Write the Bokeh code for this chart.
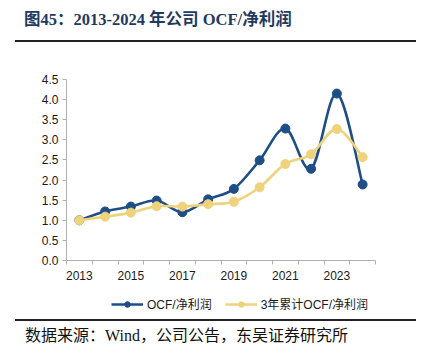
from bokeh.plotting import figure
from bokeh.models import (Div, FixedTicker, Legend, LegendItem, ColumnDataSource,
                          Range1d, PrintfTickFormatter)
from bokeh.layouts import column
from bokeh.embed import file_html
from bokeh.resources import INLINE

# ---- data ----
years = [2013, 2014, 2015, 2016, 2017, 2018, 2019, 2020, 2021, 2022, 2023, 2024]
ocf_ratio = [1.00, 1.22, 1.34, 1.49, 1.20, 1.52, 1.78, 2.49, 3.28, 2.28, 4.15, 1.89]
cum3_ratio = [1.00, 1.09, 1.19, 1.35, 1.34, 1.40, 1.46, 1.82, 2.40, 2.64, 3.27, 2.57]
y_ticks = [0.0, 0.5, 1.0, 1.5, 2.0, 2.5, 3.0, 3.5, 4.0, 4.5]
x_tick_labels = ["2013", "2015", "2017", "2019", "2021", "2023"]
series_names = ["OCF/净利润", "3年累计OCF/净利润"]
title_text = "图45：2013-2024 年公司 OCF/净利润"
source_text = "数据来源：Wind，公司公告，东吴证券研究所"

BLUE = "#1f4e87"
YELLOW = "#efd27c"
FONT = "'Liberation Sans', 'Noto Sans CJK SC'"

xs = [y - years[0] + 0.5 for y in years]


def bezier_source(x, y):
    """Smoothed (Catmull-Rom style) segments between the data points."""
    n = len(x)
    d = dict(x0=[], y0=[], x1=[], y1=[], cx0=[], cy0=[], cx1=[], cy1=[])
    for i in range(n - 1):
        xp, yp = (x[i - 1], y[i - 1]) if i > 0 else (x[i], y[i])
        xn, yn = (x[i + 2], y[i + 2]) if i + 2 < n else (x[i + 1], y[i + 1])
        d["x0"].append(x[i]); d["y0"].append(y[i])
        d["x1"].append(x[i + 1]); d["y1"].append(y[i + 1])
        d["cx0"].append(x[i] + (x[i + 1] - xp) / 6.0)
        d["cy0"].append(y[i] + (y[i + 1] - yp) / 6.0)
        d["cx1"].append(x[i + 1] - (xn - x[i]) / 6.0)
        d["cy1"].append(y[i + 1] - (yn - y[i]) / 6.0)
    return ColumnDataSource(d)


p = figure(width=429, height=240, output_backend="svg", toolbar_location=None,
           x_range=Range1d(0, len(years)), y_range=Range1d(0, 4.5),
           min_border_left=66, min_border_right=54, min_border_top=34,
           min_border_bottom=25, outline_line_color=None,
           background_fill_color="white", border_fill_color="white")
p.grid.visible = False

# separate strip that holds only the legend, below the chart
# (its own series copies sit outside its visible y range)
pl = figure(width=429, height=33, output_backend="svg", toolbar_location=None,
            x_range=Range1d(0, 1), y_range=Range1d(10, 11),
            x_axis_location=None, y_axis_location=None,
            min_border=0, outline_line_color=None,
            background_fill_color="white", border_fill_color="white")
pl.frame_align = False
pl.grid.visible = False

items = []
for vals, color, name in [(ocf_ratio, BLUE, series_names[0]),
                          (cum3_ratio, YELLOW, series_names[1])]:
    p.bezier(x0="x0", y0="y0", x1="x1", y1="y1", cx0="cx0", cy0="cy0",
             cx1="cx1", cy1="cy1", source=bezier_source(xs, vals),
             line_color=color, line_width=2.6)
    p.scatter(xs, vals, size=9, marker="circle", fill_color=color,
              line_color=color)
    leg_line = pl.line(xs, vals, line_color=color, line_width=2.6)
    leg_dot = pl.scatter(xs, vals, size=8, marker="circle", fill_color=color,
                         line_color=color)
    items.append(LegendItem(label=name, renderers=[leg_line, leg_dot]))

# axes
ax = p.xaxis[0]
ax.ticker = FixedTicker(ticks=[xs[i] for i in range(0, len(years), 2)],
                        minor_ticks=list(range(len(years) + 1)))
ax.major_label_overrides = {xs[i]: x_tick_labels[i // 2] for i in range(0, len(years), 2)}
ax.major_tick_out = 0
ax.major_tick_in = 0
ax.minor_tick_out = 4
ax.minor_tick_in = 0
ax.minor_tick_line_color = "#b0b0b0"
ax.axis_line_color = "#b0b0b0"
ax.major_label_standoff = 6

ay = p.yaxis[0]
ay.ticker = FixedTicker(ticks=y_ticks)
ay.formatter = PrintfTickFormatter(format="%.1f")
ay.major_tick_out = 4
ay.major_tick_in = 0
ay.minor_tick_line_color = None
ay.major_tick_line_color = "#b0b0b0"
ay.axis_line_color = "#b0b0b0"
ay.major_label_standoff = 4

for a in (ax, ay):
    a.major_label_text_font = FONT
    a.major_label_text_font_size = "12px"
    a.major_label_text_color = "#1a1a1a"

legend = Legend(items=items, orientation="horizontal", location=(111, 6),
                label_text_font=FONT, label_text_font_size="12px",
                label_text_color="#1a1a1a", glyph_width=32, glyph_height=14,
                label_standoff=4, spacing=13, padding=2, margin=0,
                border_line_color=None, background_fill_alpha=0)
pl.add_layout(legend)

title_div = Div(width=429, height=45, margin=0, text=f"""
<div style="position:relative;width:429px;height:45px;">
  <div style="position:absolute;left:24px;top:10px;font-family:'Liberation Serif','Noto Sans CJK SC';
       font-weight:bold;font-size:16.5px;color:#1f3a5f;white-space:nowrap;line-height:20px;">{title_text}</div>
  <div style="position:absolute;left:15px;top:40px;width:401px;height:2px;background:#222;"></div>
</div>""")

source_div = Div(width=429, height=39, margin=0, text=f"""
<div style="position:relative;width:429px;height:39px;">
  <div style="position:absolute;left:15px;top:1px;width:401px;height:2px;background:#222;"></div>
  <div style="position:absolute;left:25px;top:8px;font-family:'Liberation Serif','Noto Sans CJK SC';
       font-size:16px;color:#111;white-space:nowrap;line-height:20px;">{source_text}</div>
</div>""")

layout = column(title_div, p, pl, source_div, spacing=0, margin=0)
open("out.html", "w").write(file_html(layout, INLINE))
